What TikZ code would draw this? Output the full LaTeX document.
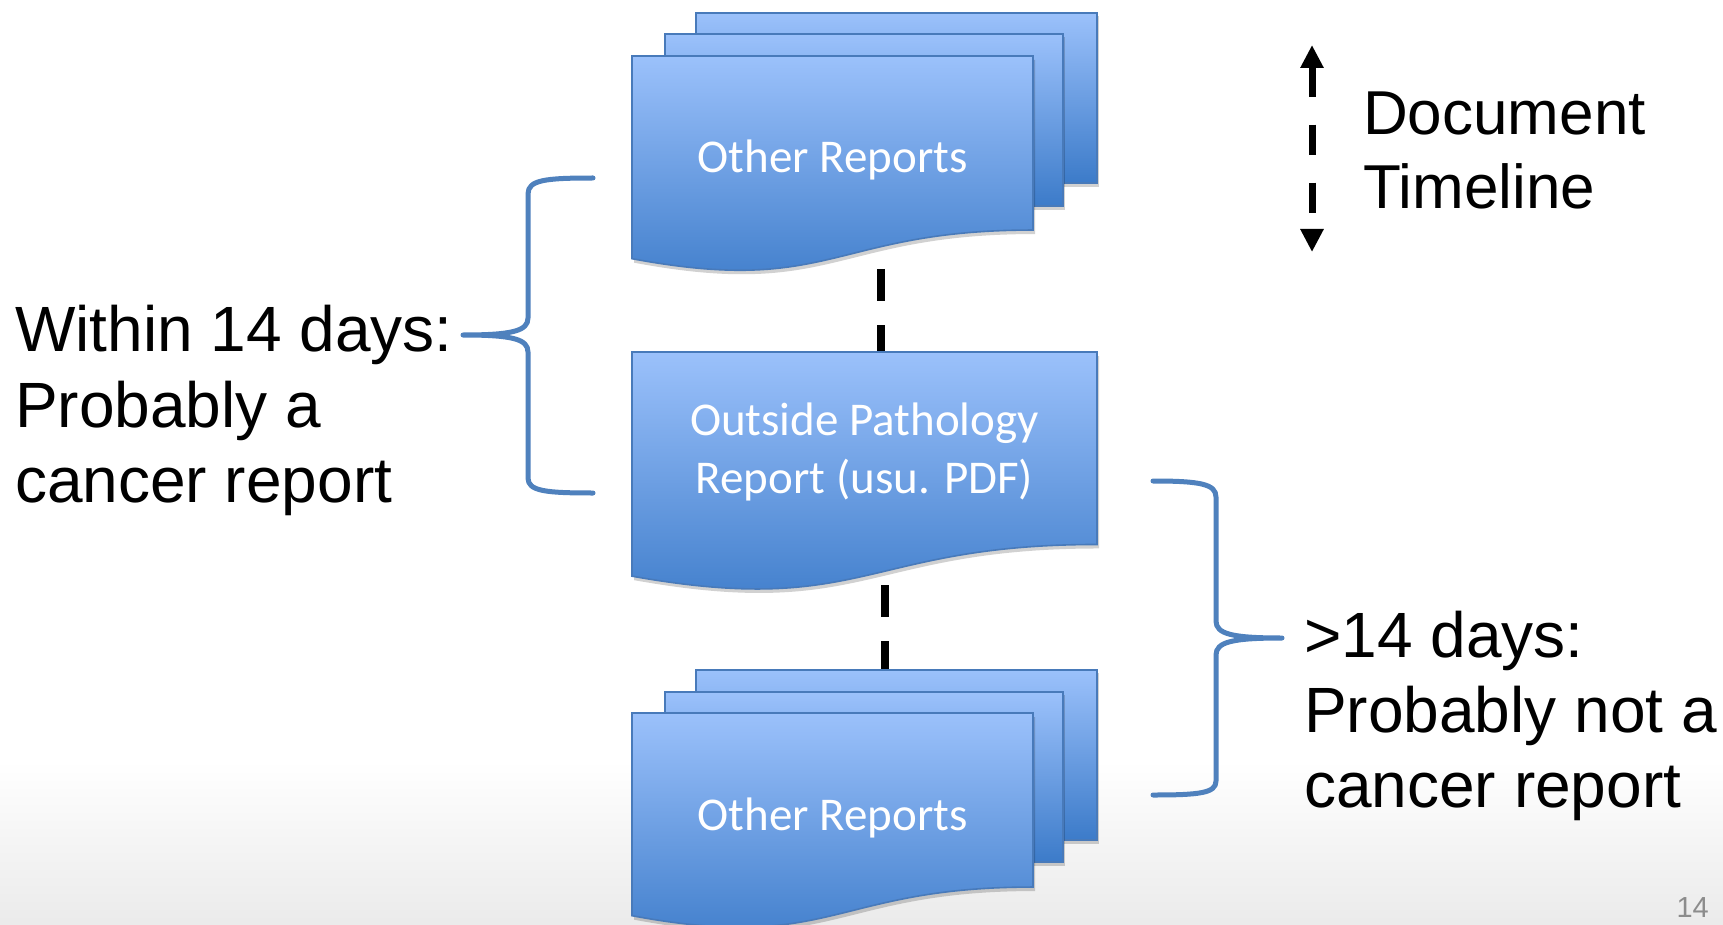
\documentclass[tikz,border=0pt]{standalone}
\usepackage{fontspec}
\setmainfont{Liberation Sans}
\newfontfamily\calib{Carlito}
\usetikzlibrary{arrows.meta}
\definecolor{docTop}{RGB}{155,193,251}
\definecolor{docBot}{RGB}{60,123,201}
\definecolor{docBorder}{RGB}{72,122,186}
\definecolor{braceCol}{RGB}{79,129,189}
\definecolor{pgnum}{RGB}{140,140,140}
% document shape: x0, y0, width, height
\newcommand\docpath[4]{%
  (#1,#2) -- ({#1+#3},#2) -- ({#1+#3},{#2+0.802*#4})
  .. controls ({#1+0.5*#3},{#2+0.802*#4}) and ({#1+0.5*#3},{#2+1.1075*#4}) ..
  (#1,{#2+0.934*#4}) -- cycle}
\tikzset{
  docfill/.style={top color=docTop, bottom color=docBot, draw=docBorder, line width=1.6pt},
  docshadow/.style={fill=black, opacity=0.18},
  doctext/.style={font=\calib\fontsize{47}{56}\selectfont, text=white, inner sep=0pt, anchor=base},
  bigtext/.style={font=\fontsize{64}{76}\selectfont, text=black, inner sep=0pt, anchor=base west},
  tltext/.style={font=\fontsize{62}{74}\selectfont, text=black, inner sep=0pt, anchor=base west},
  bracestyle/.style={draw=braceCol, line width=5pt, line cap=round, line join=round},
  conn/.style={draw=black, line width=8pt, dash pattern=on 32pt off 24pt},
}
\begin{document}
\begin{tikzpicture}[x=1pt,y=-1pt]
\useasboundingbox (0,0) rectangle (1723,925);
\fill[white] (0,0) rectangle (1723,925);
\shade[top color=white, bottom color=black!8] (0,760) rectangle (1723,925);

% connectors
\coordinate (c1a) at (881,269);
\coordinate (c1b) at (881,352);
\coordinate (c2a) at (885,585);
\coordinate (c2b) at (885,670);
\draw[conn] (c1a) -- (c1b);
\draw[conn] (c2a) -- (c2b);

% top stack
\fill[docshadow] (698,16) rectangle (1099,187);
\draw[docfill] (696,13) rectangle (1097,183);
\fill[docshadow] (667,37) rectangle (1065,210);
\draw[docfill] (665,34) rectangle (1063,206);
\fill[docshadow] \docpath{634}{60}{401}{217};
\draw[docfill] \docpath{632}{56}{401}{217};
\node[doctext] (top) at (832.5,173) {Other Reports};

% middle document
\fill[docshadow] \docpath{634}{356}{465}{240};
\draw[docfill] \docpath{632}{352}{465}{240};
\node[doctext] (mid1) at (864.5,435) {Outside Pathology};
\node[doctext] (mid2) at (864.5,493) {Report (usu. PDF)};

% bottom stack
\fill[docshadow] (698,673) rectangle (1099,844);
\draw[docfill] (696,670) rectangle (1097,840);
\fill[docshadow] (667,695) rectangle (1065,866);
\draw[docfill] (665,692) rectangle (1063,862);
\fill[docshadow] \docpath{634}{717}{401}{217};
\draw[docfill] \docpath{632}{713}{401}{217};
\node[doctext] (bot) at (832.5,830) {Other Reports};

% left brace
\draw[bracestyle] (593,178) .. controls (545,178) and (528,180) .. (528,194)
  -- (528,318) .. controls (528,331) and (512,335) .. (463,335)
  .. controls (512,335) and (528,339) .. (528,352)
  -- (528,478) .. controls (528,491) and (545,493) .. (593,493);

% right brace
\draw[bracestyle] (1153,481) .. controls (1200,481) and (1216,484) .. (1216,497)
  -- (1216,621) .. controls (1216,634) and (1232,638) .. (1282,638)
  .. controls (1232,638) and (1216,642) .. (1216,655)
  -- (1216,781) .. controls (1216,793) and (1200,795) .. (1153,795);

% left text
\node[bigtext] (l1) at (15,351) {Within 14 days:};
\node[bigtext] (l2) at (15,427) {Probably a};
\node[bigtext] (l3) at (15,502) {cancer report};

% right text
\node[bigtext] (r1) at (1304,657) {>14 days:};
\node[bigtext] (r2) at (1304,732) {Probably not a};
\node[bigtext] (r3) at (1304,807) {cancer report};

% timeline
\coordinate (tlTop) at (1312,45);
\coordinate (tlBot) at (1312,252);
\draw[line width=7pt, dash pattern=on 30pt off 28pt,
  {Triangle[width=22pt,length=23pt]}-{Triangle[width=22pt,length=23pt]}] (tlTop) -- (tlBot);
\node[tltext] (t1) at (1363,135) {Document};
\node[tltext] (t2) at (1363,209) {Timeline};

% page number
\node[font=\fontsize{29}{34}\selectfont, text=pgnum, inner sep=0pt, anchor=base east] (pg) at (1709,917) {14};
\end{tikzpicture}
\end{document}
